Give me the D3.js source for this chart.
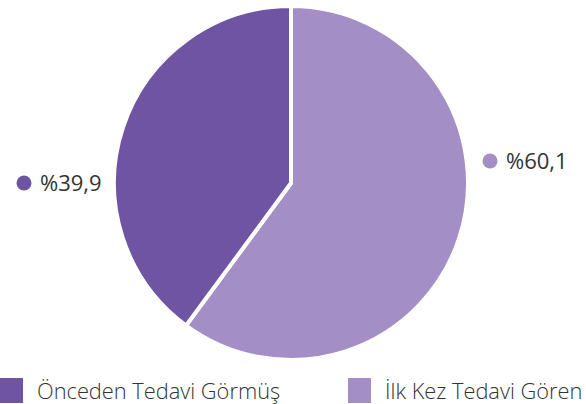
<!DOCTYPE html>
<html>
<head>
<meta charset="utf-8">
<script src="https://cdn.jsdelivr.net/npm/d3@7"></script>
<style>
  body { margin: 0; background: #fff; }
  svg text { font-family: "Open Sans", sans-serif; fill: #333; }
</style>
</head>
<body>
<svg id="chart"></svg>
<script>
// chart data
var categories = ["İlk Kez Tedavi Gören", "Önceden Tedavi Görmüş"];
var values = [60.1, 39.9];
var labels = ["%60,1", "%39,9"];
var colors = ["#a38ec5", "#6f54a3"];

var width = 586, height = 404;
var cx = 291, cy = 183, radius = 177;

var svg = d3.select("#chart")
    .attr("width", width)
    .attr("height", height);

var pie = d3.pie().sort(null).value(function(d) { return d; });
var arc = d3.arc().innerRadius(0).outerRadius(radius);

var g = svg.append("g")
    .attr("transform", "translate(" + cx + "," + cy + ")");

g.selectAll("path")
    .data(pie(values))
    .enter().append("path")
    .attr("d", arc)
    .attr("fill", function(d, i) { return colors[i]; })
    .attr("stroke", "#fff")
    .attr("stroke-width", 4)
    .attr("stroke-linejoin", "miter");

// value labels beside the pie
var labelPos = [{x: 490, y: 161}, {x: 24, y: 183}];
labelPos.forEach(function(p, i) {
  svg.append("circle")
      .attr("cx", p.x).attr("cy", p.y).attr("r", 7.5)
      .attr("fill", colors[i]);
  svg.append("text")
      .attr("x", p.x + 16).attr("y", p.y + 8)
      .style("font-size", "22px")
      .style("font-weight", 400)
      .text(labels[i]);
});

// legend
var legendPos = [{x: 348, y: 378}, {x: 0, y: 378}];
legendPos.forEach(function(p, i) {
  svg.append("rect")
      .attr("x", p.x).attr("y", p.y)
      .attr("width", 23).attr("height", 25)
      .attr("fill", colors[i]);
  svg.append("text")
      .attr("x", p.x + 37).attr("y", p.y + 21)
      .style("font-size", "21.8px")
      .style("font-weight", 300)
      .text(categories[i]);
});
</script>
</body>
</html>
